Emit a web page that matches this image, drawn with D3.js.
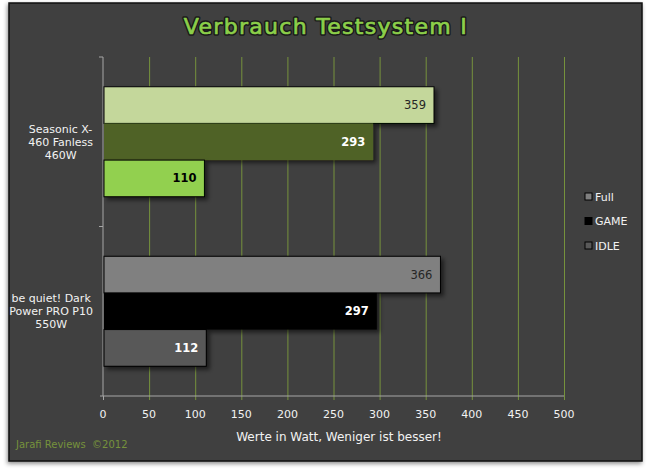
<!DOCTYPE html>
<html>
<head>
<meta charset="utf-8">
<script src="https://cdn.jsdelivr.net/npm/d3@7"></script>
<style>
  body { margin: 0; background: #fff; }
  svg text { font-family: "DejaVu Sans", Verdana, sans-serif; white-space: pre; }
</style>
</head>
<body>
<div id="container"></div>
<script>
// Chart data
const categories = ["Seasonic X-460 Fanless 460W", "be quiet! Dark Power PRO P10 550W"];
const categoryLines = [["Seasonic X-", "460 Fanless", "460W"], ["be quiet! Dark", "Power PRO P10", "550W"]];
const series = ["Full", "GAME", "IDLE"];
const fullValues = [359, 366];
const gameValues = [293, 297];
const idleValues = [110, 112];
const xTicks = [0, 50, 100, 150, 200, 250, 300, 350, 400, 450, 500];

// colors per category (rows) and series (columns)
const barColors = [["#c4d79b", "#4f6228", "#92d050"], ["#808080", "#000000", "#595959"]];
const labelColors = [["#262626", "#ffffff", "#000000"], ["#262626", "#ffffff", "#ffffff"]];
const legendColors = ["#808080", "#000000", "#595959"];

const values = [fullValues, gameValues, idleValues];

const W = 648, H = 470;
const svg = d3.select('#container').append('svg')
  .attr('width', W).attr('height', H);

const defs = svg.append('defs');
const shadow = defs.append('filter').attr('id', 'shadow')
  .attr('x', '-10%').attr('y', '-10%').attr('width', '130%').attr('height', '140%');
shadow.append('feDropShadow').attr('dx', 3).attr('dy', 3).attr('stdDeviation', 2)
  .attr('flood-color', '#000').attr('flood-opacity', 0.55);
const panelShadow = defs.append('filter').attr('id', 'pshadow')
  .attr('x', '-5%').attr('y', '-5%').attr('width', '110%').attr('height', '110%');
panelShadow.append('feDropShadow').attr('dx', -1).attr('dy', 2).attr('stdDeviation', 2)
  .attr('flood-color', '#000').attr('flood-opacity', 0.45);

// background panel
svg.append('rect')
  .attr('x', 9).attr('y', 3).attr('width', 633).attr('height', 458)
  .attr('fill', '#404040').attr('stroke', '#111').attr('stroke-width', 1.5)
  .attr('filter', 'url(#pshadow)');

// title: dark outline layer, then thickened green layer
const titleText = 'Verbrauch Testsystem I';
[['#1a1a1a', 3.6], ['#8ccf4a', 0.7]].forEach(([col, sw]) => {
  svg.append('text')
    .attr('x', 326).attr('y', 34)
    .attr('text-anchor', 'middle')
    .attr('font-size', 22)
    .attr('letter-spacing', 1.3)
    .attr('fill', '#8ccf4a')
    .attr('stroke', col).attr('stroke-width', sw)
    .attr('stroke-linejoin', 'round')
    .text(titleText);
});

const plotLeft = 103, plotRight = 564, plotTop = 57, plotBottom = 396;

const xScale = d3.scaleLinear().domain([0, 500]).range([plotLeft, plotRight]);
const yScale = d3.scaleBand().domain(categories).range([plotTop, plotBottom])
  .paddingInner(0.351).paddingOuter(0.1755);
const subScale = d3.scaleBand().domain(series).range([0, yScale.bandwidth()]);

// vertical grid lines
svg.append('g')
  .attr('transform', `translate(0, ${plotBottom})`)
  .call(d3.axisBottom(xScale).tickValues(xTicks.slice(1)).tickSize(-(plotBottom - plotTop)).tickFormat(''))
  .call(g => g.select('.domain').remove())
  .call(g => g.selectAll('line').attr('stroke', '#76923c'));
// grid ticks below the axis
svg.append('g')
  .attr('transform', `translate(0, ${plotBottom})`)
  .call(d3.axisBottom(xScale).tickValues(xTicks).tickSize(4).tickFormat(''))
  .call(g => g.select('.domain').remove())
  .call(g => g.selectAll('line').attr('stroke', (d) => d === 0 ? '#a6a6a6' : '#76923c'));

// x axis line and labels
svg.append('line')
  .attr('x1', plotLeft - 3).attr('x2', plotRight).attr('y1', plotBottom).attr('y2', plotBottom)
  .attr('stroke', '#a6a6a6');
svg.append('g')
  .selectAll('text')
  .data(xTicks)
  .enter()
  .append('text')
  .attr('x', (d) => xScale(d))
  .attr('y', plotBottom + 22)
  .attr('text-anchor', 'middle')
  .attr('font-size', 11)
  .attr('fill', '#f2f2f2')
  .text((d) => d);

// y axis line and ticks
svg.append('line')
  .attr('x1', plotLeft).attr('x2', plotLeft).attr('y1', plotTop).attr('y2', plotBottom)
  .attr('stroke', '#a6a6a6');
const yEdges = [plotTop].concat(categories.map((c) => yScale(c) + yScale.bandwidth() + yScale.step() * yScale.paddingInner() / 2));
svg.append('g')
  .selectAll('line')
  .data(yEdges.slice(0, -1))
  .enter()
  .append('line')
  .attr('x1', plotLeft - 4).attr('x2', plotLeft)
  .attr('y1', (d) => d).attr('y2', (d) => d)
  .attr('stroke', '#a6a6a6');

// bars
const groups = svg.selectAll('.cat')
  .data(categories)
  .enter()
  .append('g')
  .attr('class', 'cat')
  .attr('transform', (c) => `translate(0, ${yScale(c)})`);

groups.each(function (c, ci) {
  const g = d3.select(this);
  series.forEach((s, si) => {
    const v = values[si][ci];
    g.append('rect')
      .attr('x', xScale(0) + 1)
      .attr('y', subScale(s))
      .attr('width', xScale(v) - xScale(0) - 1)
      .attr('height', subScale.bandwidth())
      .attr('fill', barColors[ci][si])
      .attr('stroke', si === 1 ? 'none' : '#000')
      .attr('stroke-width', 1)
      .attr('filter', 'url(#shadow)');
    g.append('text')
      .attr('x', xScale(v) - 8)
      .attr('y', subScale(s) + subScale.bandwidth() / 2 + 4)
      .attr('text-anchor', 'end')
      .attr('font-size', 11.5)
      .attr('font-weight', si === 0 ? 'normal' : 'bold')
      .attr('fill', labelColors[ci][si])
      .text(v);
  });

  // category label, block right-aligned, lines centered
  const lbl = svg.append('text')
    .attr('font-size', 11)
    .attr('fill', '#f2f2f2')
    .attr('text-anchor', 'middle');
  const cy = yScale(c) + yScale.bandwidth() / 2;
  const lines = categoryLines[ci];
  lines.forEach((t, li) => {
    lbl.append('tspan').attr('x', 0).attr('y', cy + (li - 1) * 13 + 4).text(t);
  });
  let maxW = 0;
  lbl.selectAll('tspan').each(function () { maxW = Math.max(maxW, this.getComputedTextLength()); });
  lbl.selectAll('tspan').attr('x', 93 - maxW / 2);
});

// legend
const legend = svg.append('g')
  .selectAll('g')
  .data(series)
  .enter()
  .append('g')
  .attr('transform', (d, i) => `translate(585, ${197 + i * 24.5})`);
legend.append('rect')
  .attr('x', 0).attr('y', -4).attr('width', 7).attr('height', 7)
  .attr('fill', (d, i) => legendColors[i])
  .attr('stroke', '#000');
legend.append('text')
  .attr('x', 10).attr('y', 3.5)
  .attr('font-size', 11)
  .attr('fill', '#f2f2f2')
  .text((d) => d);

// axis title
svg.append('text')
  .attr('x', 339).attr('y', 441)
  .attr('text-anchor', 'middle')
  .attr('font-size', 12)
  .attr('fill', '#f2f2f2')
  .text('Werte in Watt, Weniger ist besser!');

// footnote
svg.append('text')
  .attr('x', 16).attr('y', 448)
  .attr('font-size', 10)
  .attr('fill', '#76923c')
  .text('Jarafi Reviews  \u00a92012');
</script>
</body>
</html>
